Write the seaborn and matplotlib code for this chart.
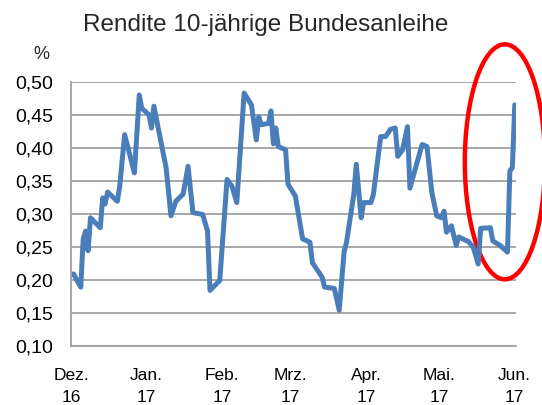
import pandas as pd
import seaborn as sns
import matplotlib.pyplot as plt
from matplotlib.patches import Ellipse

# Tage seit dem 1.12.2016 und Rendite in %
tage = [1, 4, 5, 6, 7, 8, 12, 13, 14, 15, 19, 20, 22, 26, 28, 29, 32, 33, 34, 39,
        41, 43, 46, 48, 50, 54, 56, 57, 61, 64, 66, 68, 71, 74, 76, 77, 78, 81, 82, 83,
        84, 85, 88, 89, 92, 95, 98, 99, 103, 104, 108, 110, 112, 113, 116, 117, 119, 120, 123, 124,
        127, 129, 131, 133, 134, 136, 138, 139, 144, 146, 148, 150, 152, 153, 154, 156, 158, 159, 163, 165,
        167, 168, 172, 173, 176, 179, 180, 181, 182]
rendite = [0.209, 0.189, 0.262, 0.274, 0.244, 0.294, 0.279, 0.324, 0.315, 0.333, 0.319, 0.342, 0.420, 0.362, 0.480, 0.460, 0.450, 0.430, 0.463, 0.370,
           0.297, 0.319, 0.330, 0.372, 0.302, 0.299, 0.274, 0.184, 0.199, 0.352, 0.342, 0.317, 0.483, 0.465, 0.412, 0.447, 0.435, 0.437, 0.456, 0.406,
           0.430, 0.402, 0.397, 0.345, 0.327, 0.262, 0.257, 0.226, 0.204, 0.189, 0.187, 0.154, 0.242, 0.257, 0.330, 0.375, 0.294, 0.317, 0.317, 0.329,
           0.417, 0.417, 0.428, 0.430, 0.387, 0.397, 0.432, 0.339, 0.405, 0.402, 0.332, 0.297, 0.294, 0.304, 0.272, 0.282, 0.252, 0.265, 0.258, 0.249,
           0.224, 0.278, 0.279, 0.259, 0.252, 0.242, 0.365, 0.370, 0.465]

monate = ["2016-12-01", "2017-01-01", "2017-02-01", "2017-03-01", "2017-04-01", "2017-05-01", "2017-06-01"]
monat_labels = ["Dez.\n16", "Jan.\n17", "Feb.\n17", "Mrz.\n17", "Apr.\n17", "Mai.\n17", "Jun.\n17"]
y_ticks = [0.10, 0.15, 0.20, 0.25, 0.30, 0.35, 0.40, 0.45, 0.50]

start = pd.Timestamp("2016-12-01")
df = pd.DataFrame({"datum": start + pd.to_timedelta(tage, unit="D"), "rendite": rendite})

sns.set_style("white")
plt.rcParams["font.family"] = ["Liberation Sans", "DejaVu Sans"]

fig = plt.figure(figsize=(5.42, 4.05), dpi=100)
ax = fig.add_axes([0.131, 0.146, 0.821, 0.652])

sns.lineplot(data=df, x="datum", y="rendite", ax=ax, color="#4a7ebb", linewidth=3.6)

grau = "#a0a0a0"
ax.set_ylim(0.10, 0.50)
ax.set_yticks(y_ticks)
ax.set_yticklabels([f"{v:.2f}".replace(".", ",") for v in y_ticks], fontsize=14)
ax.set_xlim(start, pd.Timestamp("2017-06-01 12:00"))
ax.set_xticks(pd.to_datetime(monate))
ax.set_xticklabels(monat_labels, linespacing=1.55, fontsize=12.5)
ax.grid(axis="y", color=grau, linewidth=1.3)
ax.set_axisbelow(True)
for s in ["top", "right"]:
    ax.spines[s].set_visible(False)
for s in ["left", "bottom"]:
    ax.spines[s].set_color(grau)
    ax.spines[s].set_linewidth(1.3)
ax.tick_params(axis="both", direction="out", length=5, width=1.3, color=grau, labelcolor="black")
ax.tick_params(axis="y", pad=8)
ax.tick_params(axis="x", pad=11)
ax.set_xlabel("")
ax.set_ylabel("")

fig.text(0.49, 0.938, "Rendite 10-jährige Bundesanleihe", ha="center", va="center", fontsize=17.5)
fig.text(0.076, 0.866, "%", ha="center", va="center", fontsize=13)

# roter Kreis um den Anstieg am Ende
ax.add_patch(Ellipse((0.975, 0.697), 0.18, 0.89, transform=ax.transAxes, fill=False,
                     edgecolor="red", linewidth=3.2, clip_on=False))

plt.savefig("out.png", dpi=100)
